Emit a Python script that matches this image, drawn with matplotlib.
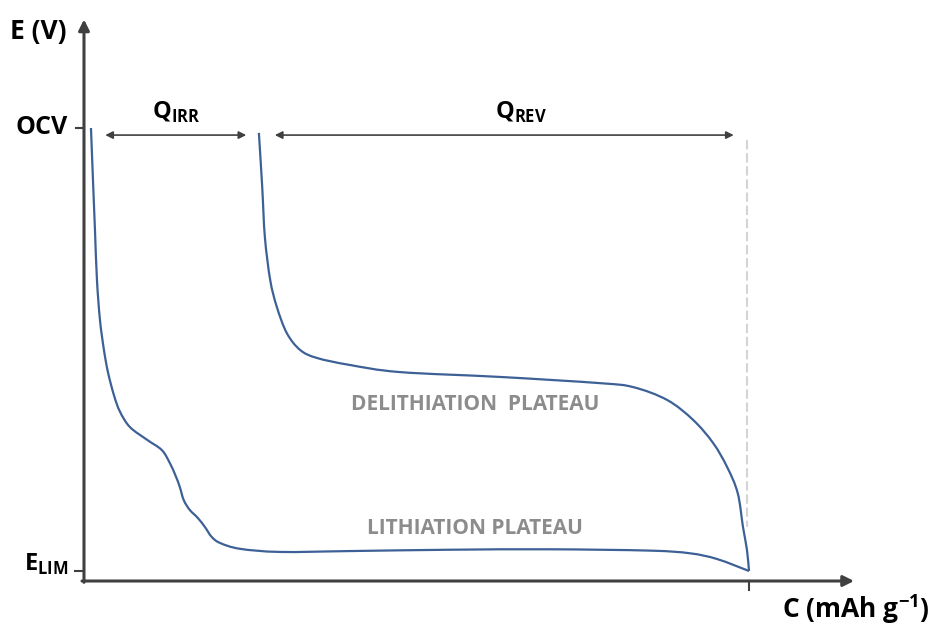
import numpy as np
import matplotlib
matplotlib.use("Agg")
import matplotlib.pyplot as plt
from matplotlib.path import Path
from matplotlib.patches import PathPatch

plt.rcParams['font.family'] = ['Open Sans', 'DejaVu Sans']
plt.rcParams['mathtext.fontset'] = 'custom'
plt.rcParams['mathtext.rm'] = 'Open Sans'
plt.rcParams['mathtext.bf'] = 'Open Sans:bold'

# capacity (0 = start, 1 = full reversible capacity) and potential (0 = E_LIM, 1 = OCV)
lith_c = [0.0105, 0.0135, 0.0165, 0.0195, 0.024, 0.030, 0.036, 0.045, 0.054, 0.069,
          0.095, 0.117, 0.129, 0.138, 0.144, 0.150, 0.159, 0.171, 0.182, 0.192,
          0.205, 0.235, 0.295, 0.400, 0.550, 0.701, 0.851, 0.911, 0.952, 1.0]
lith_e = [1.000, 0.883, 0.770, 0.657, 0.567, 0.499, 0.449, 0.397, 0.360, 0.325,
          0.296, 0.273, 0.244, 0.214, 0.190, 0.160, 0.138, 0.120, 0.099, 0.077,
          0.063, 0.050, 0.043, 0.045, 0.048, 0.049, 0.046, 0.040, 0.027, 0.0]

delith_c = [0.263, 0.268, 0.272, 0.280, 0.290, 0.305, 0.325, 0.350, 0.400, 0.475,
            0.626, 0.776, 0.826, 0.877, 0.916, 0.946, 0.967, 0.983, 0.991, 0.997, 1.0]
delith_e = [0.989, 0.867, 0.754, 0.657, 0.596, 0.537, 0.499, 0.481, 0.465, 0.449,
            0.438, 0.424, 0.415, 0.386, 0.341, 0.289, 0.235, 0.176, 0.099, 0.047, 0.0]

q_irr = (0.032, 0.244)
q_rev = (0.287, 0.977)

curve_col = '#3d6196'
axis_col = '#404040'
label_col = '#8c8c8c'


def smooth_path(xs, ys):
    # catmull-rom through the points, drawn as cubic bezier segments
    p = np.column_stack([xs, ys])
    ext = np.vstack([p[0], p, p[-1]])
    verts = [p[0]]
    codes = [Path.MOVETO]
    for i in range(1, len(ext) - 2):
        c1 = ext[i] + (ext[i + 1] - ext[i - 1]) / 6
        c2 = ext[i + 1] - (ext[i + 2] - ext[i]) / 6
        verts += [c1, c2, ext[i + 1]]
        codes += [Path.CURVE4] * 3
    return Path(verts, codes)


fig = plt.figure(figsize=(9.32, 6.25), dpi=100)
ax = fig.add_axes([0, 0, 1, 1])
ax.set_xlim(-0.1263, 1.2752)
ax.set_ylim(-0.1219, 1.2889)
ax.axis('off')

# axes with arrow heads
y0 = -0.0226
ax.annotate('', xy=(1.158, y0), xytext=(-0.003, y0),
            arrowprops=dict(arrowstyle='-|>', lw=2.2, color=axis_col,
                            mutation_scale=16, shrinkA=0, shrinkB=0))
ax.annotate('', xy=(0, 1.245), xytext=(0, y0 - 0.003),
            arrowprops=dict(arrowstyle='-|>', lw=2.2, color=axis_col,
                            mutation_scale=16, shrinkA=0, shrinkB=0))

# ticks
ax.plot([-0.012, -0.002], [1, 1], color=axis_col, lw=1.5)
ax.plot([-0.013, -0.002], [0, 0], color=axis_col, lw=1.5)
ax.plot([1, 1], [y0, -0.043], color=axis_col, lw=1.5)

# end of reversible capacity
ax.plot([0.997, 0.997], [0.973, 0.099], color='#d4d4d4', lw=1.5,
        linestyle=(0, (4.5, 1.8)))

for cs, es in ((lith_c, lith_e), (delith_c, delith_e)):
    ax.add_patch(PathPatch(smooth_path(cs, es), fill=False, edgecolor=curve_col,
                           lw=1.6, capstyle='butt', joinstyle='round'))

# capacity arrows
for a, b in (q_irr, q_rev):
    ax.annotate('', xy=(b, 0.984), xytext=(a, 0.984),
                arrowprops=dict(arrowstyle='<|-|>', lw=1.2, color=axis_col,
                                mutation_scale=11, shrinkA=0, shrinkB=0))
ax.text(0.139, 1.007, r'$\mathbf{Q}_{\mathbf{IRR}}$', fontsize=17,
        ha='center', va='bottom', color='black')
ax.text(0.657, 1.007, r'$\mathbf{Q}_{\mathbf{REV}}$', fontsize=17,
        ha='center', va='bottom', color='black')

ax.text(0.589, 0.376, 'DELITHIATION  PLATEAU', fontsize=15, fontweight='bold',
        color=label_col, ha='center', va='center')
ax.text(0.588, 0.097, 'LITHIATION PLATEAU', fontsize=15, fontweight='bold',
        color=label_col, ha='center', va='center')

# axis labels
ax.text(-0.112, 1.201, 'E (V)', fontsize=19, fontweight='bold', ha='left', va='baseline')
ax.text(-0.024, 1.0, 'OCV', fontsize=18, fontweight='bold', ha='right', va='center')
ax.text(-0.024, 0.0, r'$\mathbf{E}_{\mathbf{LIM}}$', fontsize=17, ha='right', va='baseline')
ax.text(1.272, -0.085, r'C (mAh g$^{\mathbf{-1}}$)', fontsize=19, fontweight='bold',
        ha='right', va='center')

fig.savefig('out.png', dpi=100)
